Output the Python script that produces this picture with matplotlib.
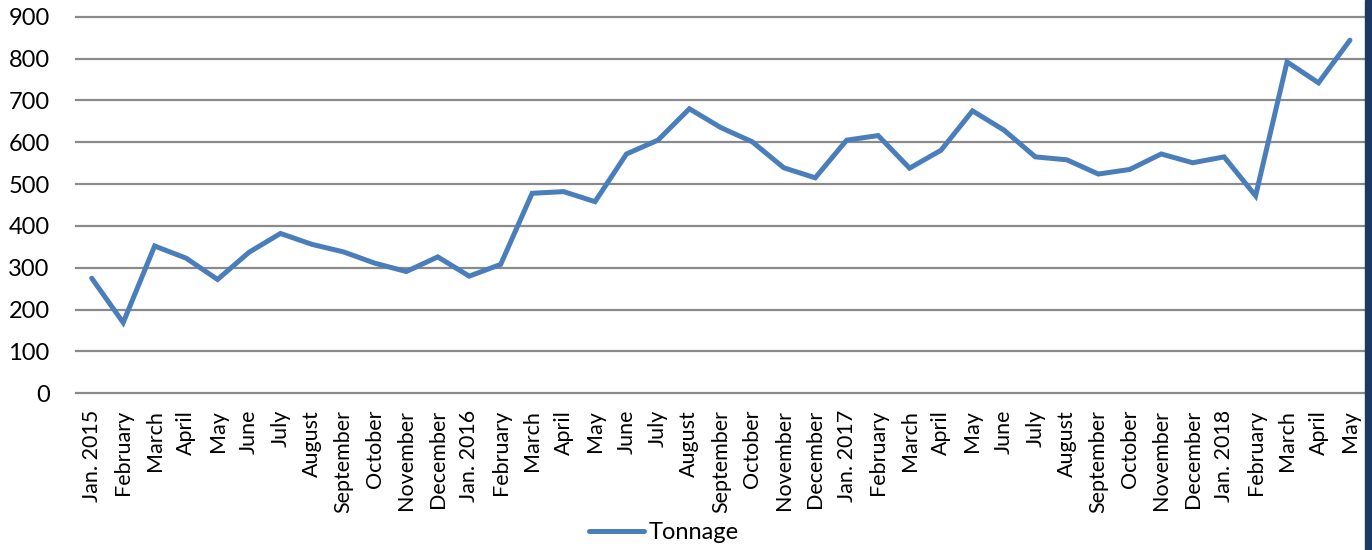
# Monthly tonnage, Jan. 2015 - May 2018

# Import Libraries
import numpy as np
import matplotlib.pyplot as plt
from matplotlib.patches import Rectangle

# Month labels along the bottom
Months = ['Jan. 2015', 'February', 'March', 'April', 'May', 'June', 'July',
          'August', 'September', 'October', 'November', 'December',
          'Jan. 2016', 'February', 'March', 'April', 'May', 'June', 'July',
          'August', 'September', 'October', 'November', 'December',
          'Jan. 2017', 'February', 'March', 'April', 'May', 'June', 'July',
          'August', 'September', 'October', 'November', 'December',
          'Jan. 2018', 'February', 'March', 'April', 'May']

# Tonnage per month
Tonnage = [275, 169, 352, 323, 272, 337, 382, 356, 338, 311, 291, 326,
           280, 308, 478, 482, 458, 572, 605, 680, 635, 601, 539, 515,
           605, 616, 538, 581, 675, 629, 565, 558, 524, 535, 572, 551,
           565, 472, 792, 742, 844]

YTicks = [0, 100, 200, 300, 400, 500, 600, 700, 800, 900]

plt.rcParams['font.family'] = ['Lato', 'DejaVu Sans']

fig = plt.figure(figsize=(13.72, 5.5), dpi=100)
ax = fig.add_axes([0.0554, 0.2849, 0.9400, 0.6847])

x = np.arange(len(Months))

# Horizontal gridlines
for yv in YTicks:
    ax.axhline(yv, color='#8a8a8a', linewidth=1.6, zorder=1, clip_on=False)

ax.plot(x, Tonnage, color='#4a7ebb', linewidth=3.6, solid_joinstyle='miter',
        solid_capstyle='round', zorder=3, label='Tonnage', clip_on=False)

ax.set_xlim(-0.5, len(Months) - 0.5)
ax.set_ylim(0, 900)
ax.set_yticks(YTicks)
ax.set_yticklabels([str(v) for v in YTicks], fontsize=17)
ax.set_xticks(x)
ax.set_xticklabels(Months, rotation=90, fontsize=15.5)
ax.tick_params(axis='y', length=0, pad=19)
ax.tick_params(axis='x', length=0, pad=12)
for s in ax.spines.values():
    s.set_visible(False)

# Legend under the chart
fig.legend(loc='center', bbox_to_anchor=(0.484, 0.031), frameon=False,
           fontsize=17, handlelength=2.3, handletextpad=0.2,
           borderpad=0, borderaxespad=0)

# Dark strip on the right edge
fig.patches.append(Rectangle((1365 / 1372, 0), 7 / 1372, 1, transform=fig.transFigure,
                             color='#1b3a63', zorder=5))

fig.savefig('out.png', dpi=100)
